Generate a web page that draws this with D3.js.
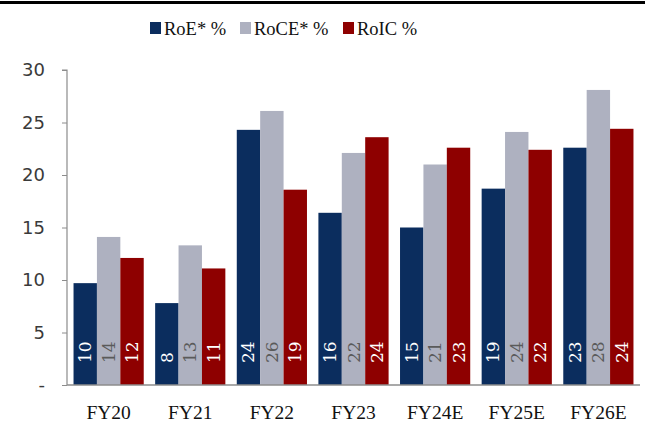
<!DOCTYPE html>
<html>
<head>
<meta charset="utf-8">
<script src="https://cdn.jsdelivr.net/npm/d3@7"></script>
<style>
  html, body { margin: 0; padding: 0; background: #fff; }
  svg { display: block; }
</style>
</head>
<body>
<svg id="chart" width="645" height="423"></svg>
<script>
// Return ratios by fiscal year (%)
const years = ["FY20", "FY21", "FY22", "FY23", "FY24E", "FY25E", "FY26E"];
const seriesNames = ["RoE* %", "RoCE* %", "RoIC %"];
const roe  = [9.7, 7.8, 24.3, 16.4, 15.0, 18.7, 22.6];
const roce = [14.1, 13.3, 26.1, 22.1, 21.0, 24.1, 28.1];
const roic = [12.1, 11.1, 18.6, 23.6, 22.6, 22.4, 24.4];
const yTicks = [0, 5, 10, 15, 20, 25, 30];

const colors = ["#0b2d5e", "#aeb1c0", "#8e0000"];
const labelColors = ["#ffffff", "#5a5a5a", "#ffffff"];
const seriesValues = [roe, roce, roic];

const svg = d3.select("#chart");
const W = 645, H = 423;
const margin = { left: 67, right: 5, top: 70, bottom: 38 };
const plotBottom = 385;

// Top rule
svg.append("line")
  .attr("x1", 0).attr("x2", W)
  .attr("y1", 2.5).attr("y2", 2.5)
  .attr("stroke", "#000").attr("stroke-width", 3);

const x0 = d3.scaleBand().domain(years).range([margin.left, 640])
  .paddingInner(0.14).paddingOuter(0.08);
const x1 = d3.scaleBand().domain(d3.range(3)).range([0, x0.bandwidth()]);
const y = d3.scaleLinear().domain([0, 30]).range([plotBottom, 70]);

// Bars
const groups = svg.append("g").selectAll("g")
  .data(years).join("g")
  .attr("transform", d => `translate(${x0(d)},0)`);

groups.selectAll("rect")
  .data((d, i) => seriesValues.map((s, k) => ({ k, v: s[i] })))
  .join("rect")
  .attr("x", d => x1(d.k))
  .attr("width", x1.bandwidth())
  .attr("y", d => y(d.v))
  .attr("height", d => y(0) - y(d.v))
  .attr("fill", d => colors[d.k]);

// Rotated value labels inside bars
groups.selectAll("text")
  .data((d, i) => seriesValues.map((s, k) => ({ k, v: s[i] })))
  .join("text")
  .attr("transform", d => `translate(${x1(d.k) + x1.bandwidth() / 2 + 6},${plotBottom - 22}) rotate(-90)`)
  .attr("text-anchor", "start")
  .attr("font-family", "'DejaVu Serif', serif")
  .attr("font-size", 17)
  .attr("fill", d => labelColors[d.k])
  .text(d => d3.format(".0f")(d.v));

// Y axis
const yAxis = d3.axisLeft(y).tickValues(yTicks).tickSize(5).tickPadding(17)
  .tickFormat(d => d === 0 ? "-" : d);
const gy = svg.append("g").attr("transform", `translate(${margin.left},0)`).call(yAxis);
gy.select(".domain").attr("stroke", "#8c8c8c").attr("stroke-width", 1.2)
  .attr("d", `M-5,${y(30)}H0V${plotBottom}`);
gy.selectAll(".tick line").attr("stroke", "#8c8c8c");
gy.selectAll(".tick text")
  .attr("font-family", "'DejaVu Sans', sans-serif")
  .attr("font-size", 18)
  .attr("fill", "#3a3a3a");

// X axis
const xAxis = d3.axisBottom(x0).tickSize(0).tickPadding(0);
const gx = svg.append("g").attr("transform", `translate(0,${plotBottom})`).call(xAxis);
gx.select(".domain").attr("stroke", "#8c8c8c").attr("stroke-width", 1.5)
  .attr("d", `M${margin.left},0H640`);
gx.selectAll(".tick text")
  .attr("dy", null)
  .attr("y", 33.5)
  .attr("font-family", "'Liberation Serif', serif")
  .attr("font-size", 19.5)
  .attr("fill", "#111");

// Legend
const legendX = [150, 240, 343];
const legend = svg.append("g").selectAll("g")
  .data(seriesNames).join("g")
  .attr("transform", (d, i) => `translate(${legendX[i]},22)`);
legend.append("rect")
  .attr("width", 11).attr("height", 12)
  .attr("fill", (d, i) => colors[i]);
legend.append("text")
  .attr("x", 14).attr("y", 12.5)
  .attr("font-family", "'Liberation Serif', serif")
  .attr("font-size", 18.5)
  .attr("fill", "#111")
  .text(d => d);
</script>
</body>
</html>
